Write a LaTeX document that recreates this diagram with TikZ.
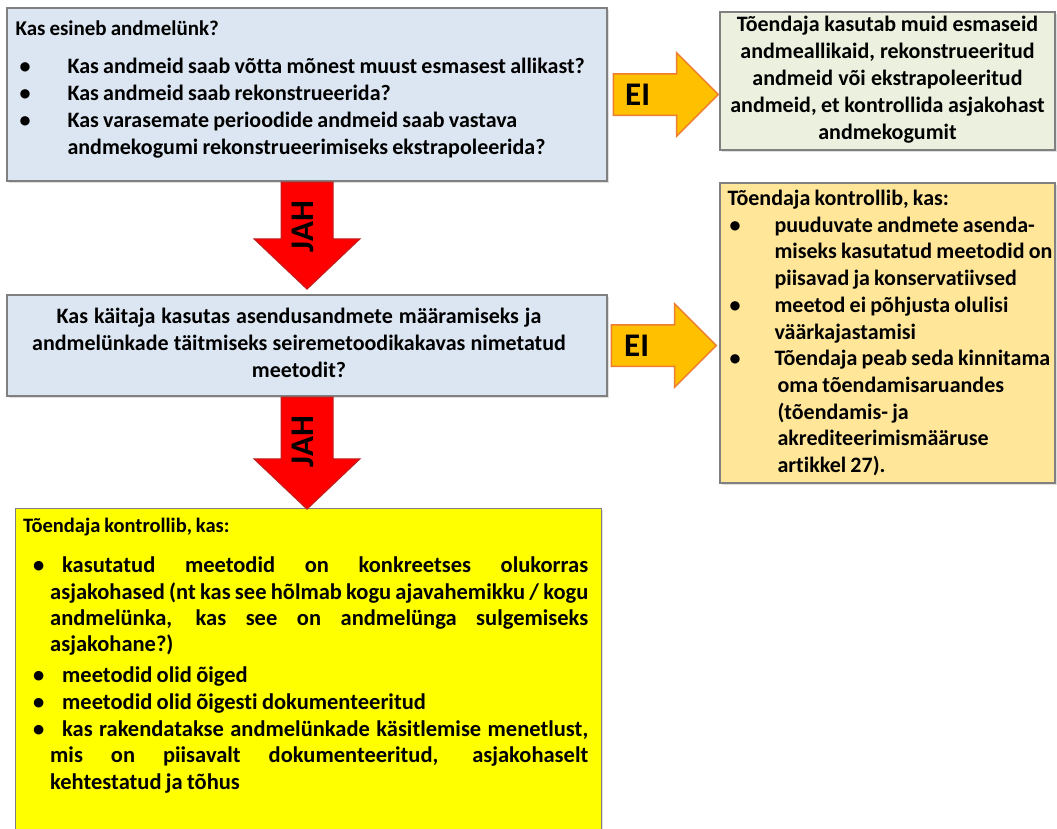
\documentclass[tikz,border=0pt]{standalone}
\usepackage{fontspec}
\setmainfont{Carlito}[WordSpace={0.85,0.6,0.9}, Ligatures=NoCommon]
\usepackage{xcolor}
\usetikzlibrary{shapes.arrows, shadows}
\setlength{\parindent}{0pt}
\definecolor{qcolor}{RGB}{220,230,242}
\definecolor{altcolor}{RGB}{235,241,222}
\definecolor{chkcolor}{RGB}{255,230,153}
\definecolor{rescolor}{RGB}{255,255,0}
\definecolor{boxline}{RGB}{128,128,128}
\definecolor{eicolor}{RGB}{255,192,0}
\definecolor{eiline}{RGB}{237,125,49}
\definecolor{jahcolor}{RGB}{255,0,0}
\definecolor{jahline}{RGB}{190,30,30}
% bullet item: bullet offset, text offset, hanging indent, text
\newcommand{\bitem}[4]{\par\hangindent=#3pt\hangafter=1\noindent\hspace*{#1pt}\makebox[\dimexpr#2pt-#1pt\relax][l]{\textbullet}#4}
\tikzset{
    basebox/.style={rectangle, draw=boxline, line width=1.3pt, inner sep=0pt,
        drop shadow={shadow xshift=1.5pt, shadow yshift=-1.5pt, opacity=0.25}},
    qbox/.style={basebox, fill=qcolor},
    altbox/.style={basebox, fill=altcolor},
    chkbox/.style={basebox, fill=chkcolor},
    resbox/.style={basebox, fill=rescolor},
    boxtext/.style={font=\fontsize{22}{27}\selectfont\bfseries, inner sep=0pt,
        execute at begin node={\spaceskip=0pt\relax\xspaceskip=0pt\relax}},
    eiarr/.style={single arrow, draw=eiline, fill=eicolor, line width=1.5pt,
        inner xsep=0pt, inner ysep=20pt, minimum height=105pt,
        single arrow head extend=21pt, single arrow tip angle=90},
    jaharr/.style={single arrow, shape border rotate=270, draw=jahline,
        fill=jahcolor, line width=1pt, inner xsep=25.5pt, inner ysep=0pt,
        single arrow head extend=27pt, single arrow tip angle=93},
    arrlabel/.style={font=\fontsize{33}{33}\selectfont\bfseries, inner sep=0pt}
}

\begin{document}
\begin{tikzpicture}[x=1pt, y=-1pt]
\useasboundingbox (0,0) rectangle (1057,828);
\clip (0,0) rectangle (1057,828);

% Question 1
\node[qbox, minimum width=600, minimum height=173] (q1) at (307,94.5) {};
\node[boxtext, anchor=north west, text width=590, align=left]
(q1t) at ([xshift=9, yshift=-13]q1.north west)
{{\fontsize{21}{27}\selectfont Kas esineb andmelünk?}\par\vspace{11pt}
\bitem{4}{52}{52}{Kas andmeid saab võtta mõnest muust esmasest allikast?}
\bitem{4}{52}{52}{Kas andmeid saab rekonstrueerida?}
\bitem{4}{52}{52}{Kas varasemate perioodide andmeid saab vastava\newline andmekogumi rekonstrueerimiseks ekstrapoleerida?}\par};

% Alternative sources
\node[altbox, minimum width=335, minimum height=138] (alt) at (887.5,81) {};
\node[boxtext, align=center, text width=330] (altt) at ([yshift=1]alt.center)
{Tõendaja kasutab muid esmaseid\\ andmeallikaid, rekonstrueeritud\\ andmeid või ekstrapoleeritud\\ andmeid, et kontrollida asjakohast\\ andmekogumit};

% Question 2
\node[qbox, minimum width=600, minimum height=101] (q2) at (307,345.5) {};
\node[boxtext, align=center, text width=590] (q2t) at ([xshift=-8, yshift=3]q2.center)
{Kas käitaja kasutas asendusandmete määramiseks ja\\ andmelünkade täitmiseks seiremetoodikakavas nimetatud\\ meetodit?};

% Check, no
\node[chkbox, minimum width=335, minimum height=300] (chk) at (887.5,333) {};
\node[boxtext, anchor=west, text width=330, align=left,
    font=\fontsize{22}{26.7}\selectfont\bfseries]
(chkt) at ([xshift=8, yshift=0]chk.west)
{Tõendaja kontrollib, kas:
\bitem{2}{47}{47}{puuduvate andmete asenda-\newline miseks kasutatud meetodid on\newline piisavad ja konservatiivsed}
\bitem{2}{47}{47}{meetod ei põhjusta olulisi\newline väärkajastamisi}
\bitem{2}{47}{47}{Tõendaja peab seda kinnitama\newline \hspace*{3pt}oma tõendamisaruandes\newline \hspace*{3pt}(tõendamis- ja\newline \hspace*{3pt}akrediteerimismääruse\newline \hspace*{3pt}artikkel 27).}\par};

% Check, yes
\node[resbox, anchor=north west, minimum width=586, minimum height=340] (res) at (15,508) {};
\node[boxtext, anchor=north west, text width=565, align=justify]
(rest) at ([xshift=8, yshift=-10]res.north west)
{{\fontsize{20.5}{27}\selectfont Tõendaja kontrollib, kas:}\par\vspace{14pt}
\fontsize{22.5}{26.3}\selectfont
\bitem{10}{39}{27}{kasutatud meetodid on konkreetses olukorras\linebreak asjakohased (nt kas see hõlmab kogu ajavahemikku / kogu\linebreak andmelünka, kas see on andmelünga sulgemiseks\linebreak asjakohane?)}\par\vspace{4.5pt}
\bitem{10}{39}{27}{meetodid olid õiged}\par\vspace{0.7pt}
\bitem{10}{39}{27}{meetodid olid õigesti dokumenteeritud}\par\vspace{0.7pt}
\bitem{10}{39}{27}{kas rakendatakse andmelünkade käsitlemise menetlust,\linebreak mis on piisavalt dokumenteeritud, asjakohaselt\linebreak kehtestatud ja tõhus}\par};

% EI arrows
\node[eiarr, anchor=tail] (ei1) at ([xshift=5]q1.east) {};
\node[arrlabel] (ei1l) at ([xshift=25]ei1.tail) {EI};
\node[eiarr, anchor=tail] (ei2) at ([xshift=3]q2.east) {};
\node[arrlabel] (ei2l) at ([xshift=26]ei2.tail) {EI};

% JAH arrows
\node[jaharr, minimum height=107, anchor=tail] (jah1) at (q1.south) {};
\node[arrlabel, rotate=90] (jah1l) at ([xshift=-4, yshift=-45]jah1.tail) {JAH};
\node[jaharr, minimum height=112, anchor=tail] (jah2) at (q2.south) {};
\node[arrlabel, rotate=90] (jah2l) at ([xshift=-4, yshift=-45]jah2.tail) {JAH};

\end{tikzpicture}
\end{document}
